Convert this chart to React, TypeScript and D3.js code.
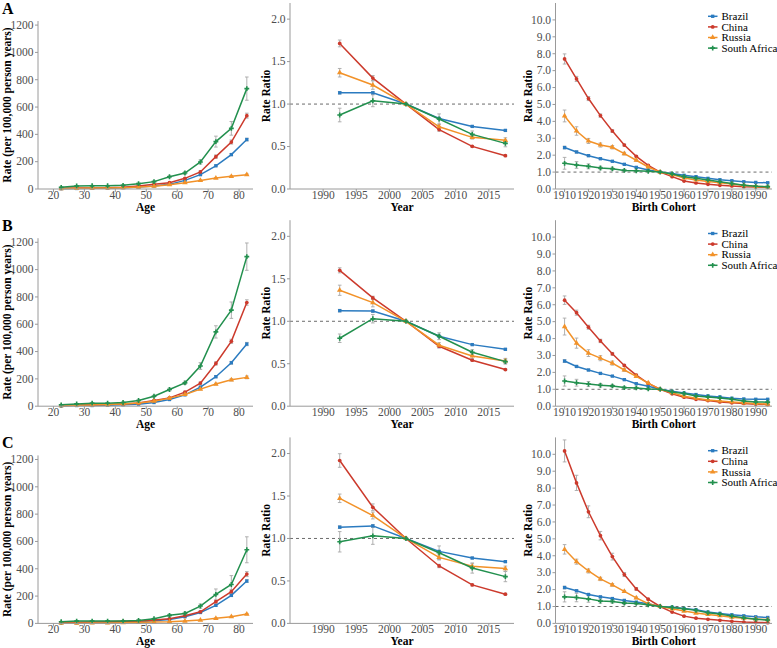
import React from "react";
import * as d3 from "d3";

// ---------- DATA ----------
const countries = ["Brazil", "China", "Russia", "South Africa"];
const panelLabels = ["A", "B", "C"];
const ages = [22.5, 27.5, 32.5, 37.5, 42.5, 47.5, 52.5, 57.5, 62.5, 67.5, 72.5, 77.5, 82.5];
const periods = [1992.5, 1997.5, 2002.5, 2007.5, 2012.5, 2017.5];
const cohorts = [1910, 1915, 1920, 1925, 1930, 1935, 1940, 1945, 1950, 1955, 1960, 1965, 1970, 1975, 1980, 1985, 1990, 1995];
const ageTicks = [20, 30, 40, 50, 60, 70, 80];
const rateTicks = [0, 200, 400, 600, 800, 1000, 1200];
const periodTicks = [1990, 1995, 2000, 2005, 2010, 2015];
const periodRatioTicks = [0, 0.5, 1.0, 1.5, 2.0];
const cohortTicks = [1910, 1920, 1930, 1940, 1950, 1960, 1970, 1980, 1990];
const cohortRatioTicks = [0, 1, 2, 3, 4, 5, 6, 7, 8, 9, 10];

// Age effects (rate per 100,000 person years)
const ageA_Brazil = [2, 4, 6, 8, 10, 15, 22, 34, 63, 105, 170, 252, 362];
const ageA_China = [5, 7, 8, 10, 12, 22, 34, 46, 78, 125, 237, 344, 537];
const ageA_Russia = [3, 5, 7, 8, 10, 14, 20, 31, 46, 63, 80, 93, 105];
const ageA_SouthAfrica = [12, 22, 24, 24, 27, 39, 54, 90, 117, 198, 347, 444, 735];
const ageB_Brazil = [2, 5, 5, 7, 10, 15, 27, 49, 83, 140, 216, 318, 455];
const ageB_China = [5, 7, 10, 12, 17, 24, 42, 61, 103, 169, 313, 475, 759];
const ageB_Russia = [3, 7, 9, 12, 17, 24, 37, 59, 86, 125, 162, 193, 211];
const ageB_SouthAfrica = [10, 17, 22, 22, 27, 42, 73, 122, 171, 294, 544, 703, 1095];
const ageC_Brazil = [5, 5, 7, 7, 10, 12, 20, 29, 49, 80, 132, 205, 310];
const ageC_China = [7, 8, 10, 12, 15, 15, 24, 34, 56, 85, 159, 232, 361];
const ageC_Russia = [2, 2, 3, 3, 5, 7, 10, 12, 17, 24, 37, 49, 68];
const ageC_SouthAfrica = [12, 17, 17, 17, 17, 22, 34, 59, 73, 127, 212, 285, 539];

const ageA_Brazil_err = [1, 1, 1, 1, 1, 1, 2, 2, 3, 5, 6, 8, 10];
const ageA_China_err = [1, 1, 1, 1, 1, 2, 2, 3, 5, 8, 12, 15, 18];
const ageA_Russia_err = [1, 1, 1, 1, 1, 1, 1, 2, 2, 3, 3, 4, 5];
const ageA_SouthAfrica_err = [2, 3, 3, 3, 3, 4, 5, 8, 10, 15, 40, 50, 85];
const ageB_Brazil_err = [1, 1, 1, 1, 1, 1, 2, 3, 4, 6, 8, 10, 12];
const ageB_China_err = [1, 1, 1, 1, 2, 2, 3, 4, 6, 8, 12, 15, 20];
const ageB_Russia_err = [1, 1, 1, 1, 1, 2, 2, 3, 4, 5, 6, 8, 10];
const ageB_SouthAfrica_err = [2, 3, 4, 4, 4, 5, 7, 10, 12, 25, 45, 60, 100];
const ageC_Brazil_err = [1, 1, 1, 1, 1, 1, 2, 2, 3, 5, 6, 8, 10];
const ageC_China_err = [1, 1, 1, 1, 1, 2, 2, 3, 4, 6, 10, 15, 18];
const ageC_Russia_err = [1, 1, 1, 1, 1, 1, 1, 1, 2, 2, 3, 4, 5];
const ageC_SouthAfrica_err = [2, 3, 3, 3, 3, 4, 5, 8, 10, 15, 40, 65, 95];

// Period effects (rate ratio)
const perA_Brazil = [1.133, 1.133, 1, 0.831, 0.737, 0.69];
const perA_China = [1.714, 1.306, 1, 0.7, 0.502, 0.392];
const perA_Russia = [1.369, 1.224, 1, 0.733, 0.608, 0.573];
const perA_SouthAfrica = [0.871, 1.039, 1, 0.824, 0.643, 0.537];
const perB_Brazil = [1.125, 1.12, 1, 0.824, 0.725, 0.67];
const perB_China = [1.6, 1.275, 1, 0.706, 0.541, 0.431];
const perB_Russia = [1.365, 1.22, 1, 0.718, 0.592, 0.533];
const perB_SouthAfrica = [0.8, 1.03, 1, 0.824, 0.635, 0.525];
const perC_Brazil = [1.133, 1.148, 1, 0.848, 0.77, 0.727];
const perC_China = [1.918, 1.367, 1, 0.676, 0.453, 0.344];
const perC_Russia = [1.473, 1.27, 1, 0.777, 0.672, 0.645];
const perC_SouthAfrica = [0.961, 1.031, 1, 0.832, 0.652, 0.551];

const perA_Brazil_err = [0.015, 0.015, 0, 0.01, 0.01, 0.01];
const perA_China_err = [0.04, 0.03, 0, 0.02, 0.01, 0.01];
const perA_Russia_err = [0.05, 0.05, 0, 0.03, 0.02, 0.03];
const perA_SouthAfrica_err = [0.08, 0.07, 0, 0.06, 0.04, 0.04];
const perB_Brazil_err = [0.015, 0.015, 0, 0.01, 0.01, 0.01];
const perB_China_err = [0.03, 0.02, 0, 0.02, 0.01, 0.01];
const perB_Russia_err = [0.06, 0.05, 0, 0.03, 0.03, 0.03];
const perB_SouthAfrica_err = [0.05, 0.05, 0, 0.04, 0.03, 0.03];
const perC_Brazil_err = [0.015, 0.015, 0, 0.01, 0.01, 0.01];
const perC_China_err = [0.08, 0.04, 0, 0.02, 0.01, 0.01];
const perC_Russia_err = [0.05, 0.04, 0, 0.03, 0.03, 0.03];
const perC_SouthAfrica_err = [0.12, 0.1, 0, 0.08, 0.06, 0.06];

// Cohort effects (rate ratio)
const cohA_Brazil = [2.45, 2.19, 1.97, 1.79, 1.64, 1.46, 1.28, 1.12, 1, 0.91, 0.81, 0.73, 0.63, 0.55, 0.49, 0.43, 0.39, 0.37];
const cohA_China = [7.69, 6.51, 5.35, 4.34, 3.43, 2.6, 1.93, 1.4, 1, 0.73, 0.47, 0.355, 0.28, 0.22, 0.18, 0.14, 0.12, 0.1];
const cohA_Russia = [4.32, 3.43, 2.84, 2.6, 2.47, 2.09, 1.7, 1.3, 1, 0.85, 0.65, 0.53, 0.45, 0.37, 0.3, 0.22, 0.16, 0.12];
const cohA_SouthAfrica = [1.52, 1.42, 1.34, 1.24, 1.2, 1.1, 1.08, 1.05, 1, 0.89, 0.73, 0.63, 0.53, 0.43, 0.32, 0.22, 0.16, 0.14];
const cohB_Brazil = [2.67, 2.35, 2.14, 1.94, 1.78, 1.57, 1.33, 1.18, 1, 0.88, 0.78, 0.69, 0.61, 0.55, 0.47, 0.43, 0.41, 0.41];
const cohB_China = [6.27, 5.53, 4.67, 3.86, 3.1, 2.41, 1.84, 1.35, 1, 0.73, 0.53, 0.41, 0.33, 0.25, 0.2, 0.16, 0.12, 0.1];
const cohB_Russia = [4.71, 3.73, 3.14, 2.84, 2.55, 2.14, 1.76, 1.37, 1, 0.8, 0.59, 0.47, 0.37, 0.31, 0.25, 0.2, 0.16, 0.12];
const cohB_SouthAfrica = [1.49, 1.39, 1.31, 1.24, 1.2, 1.1, 1.08, 1.02, 1, 0.84, 0.75, 0.61, 0.55, 0.49, 0.41, 0.31, 0.25, 0.24];
const cohC_Brazil = [2.12, 1.93, 1.71, 1.57, 1.47, 1.36, 1.26, 1.16, 1, 0.96, 0.88, 0.81, 0.67, 0.59, 0.51, 0.45, 0.39, 0.35];
const cohC_China = [10.2, 8.31, 6.6, 5.19, 3.95, 2.89, 2.04, 1.43, 1, 0.67, 0.43, 0.31, 0.24, 0.18, 0.12, 0.08, 0.06, 0.04];
const cohC_Russia = [4.38, 3.65, 3.1, 2.63, 2.28, 1.89, 1.51, 1.16, 1, 0.86, 0.73, 0.61, 0.53, 0.45, 0.37, 0.31, 0.26, 0.22];
const cohC_SouthAfrica = [1.57, 1.53, 1.45, 1.32, 1.3, 1.2, 1.18, 1.1, 1, 0.94, 0.86, 0.77, 0.63, 0.55, 0.43, 0.33, 0.24, 0.2];

const cohA_Brazil_err = [0.08, 0.06, 0.05, 0.04, 0.03, 0.03, 0.03, 0.02, 0, 0.02, 0.02, 0.02, 0.02, 0.02, 0.02, 0.02, 0.02, 0.02];
const cohA_China_err = [0.3, 0.15, 0.12, 0.1, 0.08, 0.06, 0.05, 0.04, 0, 0.02, 0.02, 0.02, 0.01, 0.01, 0.01, 0.01, 0.01, 0.01];
const cohA_Russia_err = [0.35, 0.25, 0.15, 0.12, 0.1, 0.08, 0.06, 0.05, 0, 0.03, 0.03, 0.02, 0.02, 0.02, 0.02, 0.02, 0.02, 0.02];
const cohA_SouthAfrica_err = [0.35, 0.2, 0.15, 0.1, 0.08, 0.06, 0.05, 0.05, 0, 0.04, 0.04, 0.04, 0.04, 0.04, 0.04, 0.04, 0.04, 0.04];
const cohB_Brazil_err = [0.08, 0.06, 0.05, 0.04, 0.03, 0.03, 0.03, 0.02, 0, 0.02, 0.02, 0.02, 0.02, 0.02, 0.02, 0.02, 0.02, 0.02];
const cohB_China_err = [0.25, 0.15, 0.12, 0.1, 0.08, 0.06, 0.05, 0.04, 0, 0.02, 0.02, 0.02, 0.01, 0.01, 0.01, 0.01, 0.01, 0.01];
const cohB_Russia_err = [0.5, 0.3, 0.2, 0.15, 0.12, 0.08, 0.06, 0.05, 0, 0.03, 0.03, 0.02, 0.02, 0.02, 0.02, 0.02, 0.02, 0.02];
const cohB_SouthAfrica_err = [0.3, 0.2, 0.15, 0.1, 0.08, 0.06, 0.05, 0.05, 0, 0.04, 0.04, 0.04, 0.04, 0.04, 0.04, 0.04, 0.04, 0.04];
const cohC_Brazil_err = [0.08, 0.06, 0.05, 0.04, 0.03, 0.03, 0.03, 0.02, 0, 0.02, 0.02, 0.02, 0.02, 0.02, 0.02, 0.02, 0.02, 0.02];
const cohC_China_err = [0.65, 0.45, 0.35, 0.25, 0.2, 0.12, 0.08, 0.05, 0, 0.02, 0.02, 0.02, 0.01, 0.01, 0.01, 0.01, 0.01, 0.01];
const cohC_Russia_err = [0.28, 0.15, 0.12, 0.1, 0.08, 0.06, 0.05, 0.04, 0, 0.03, 0.03, 0.02, 0.02, 0.02, 0.02, 0.02, 0.02, 0.02];
const cohC_SouthAfrica_err = [0.3, 0.25, 0.2, 0.12, 0.1, 0.08, 0.06, 0.05, 0, 0.04, 0.04, 0.04, 0.04, 0.04, 0.04, 0.04, 0.04, 0.04];

// ---------- STYLE ----------
const COLORS = ["#2B7BC0", "#CC3A2C", "#F29229", "#22904E"];
const SYMBOLS = [d3.symbolSquare, d3.symbolCircle, d3.symbolTriangle, d3.symbolCross];
const SYMBOL_SIZES = [11, 11, 13, 13];
const FONT = "'Liberation Serif', 'Times New Roman', serif";
const AXIS_COLOR = "#9a9a9a";
const TICK_TEXT = "#4d4d4d";
const ROW_STEP = 217.2;

const rowsData = [
  {
    age: [ageA_Brazil, ageA_China, ageA_Russia, ageA_SouthAfrica],
    ageErr: [ageA_Brazil_err, ageA_China_err, ageA_Russia_err, ageA_SouthAfrica_err],
    per: [perA_Brazil, perA_China, perA_Russia, perA_SouthAfrica],
    perErr: [perA_Brazil_err, perA_China_err, perA_Russia_err, perA_SouthAfrica_err],
    coh: [cohA_Brazil, cohA_China, cohA_Russia, cohA_SouthAfrica],
    cohErr: [cohA_Brazil_err, cohA_China_err, cohA_Russia_err, cohA_SouthAfrica_err],
  },
  {
    age: [ageB_Brazil, ageB_China, ageB_Russia, ageB_SouthAfrica],
    ageErr: [ageB_Brazil_err, ageB_China_err, ageB_Russia_err, ageB_SouthAfrica_err],
    per: [perB_Brazil, perB_China, perB_Russia, perB_SouthAfrica],
    perErr: [perB_Brazil_err, perB_China_err, perB_Russia_err, perB_SouthAfrica_err],
    coh: [cohB_Brazil, cohB_China, cohB_Russia, cohB_SouthAfrica],
    cohErr: [cohB_Brazil_err, cohB_China_err, cohB_Russia_err, cohB_SouthAfrica_err],
  },
  {
    age: [ageC_Brazil, ageC_China, ageC_Russia, ageC_SouthAfrica],
    ageErr: [ageC_Brazil_err, ageC_China_err, ageC_Russia_err, ageC_SouthAfrica_err],
    per: [perC_Brazil, perC_China, perC_Russia, perC_SouthAfrica],
    perErr: [perC_Brazil_err, perC_China_err, perC_Russia_err, perC_SouthAfrica_err],
    coh: [cohC_Brazil, cohC_China, cohC_Russia, cohC_SouthAfrica],
    cohErr: [cohC_Brazil_err, cohC_China_err, cohC_Russia_err, cohC_SouthAfrica_err],
  },
];

type PanelProps = {
  xs: number[];
  series: number[][];
  errs: number[][];
  xDomain: [number, number];
  yDomain: [number, number];
  xTicks: number[];
  yTicks: number[];
  fmtY: (v: number) => string;
  left: number;
  right: number;
  top: number;
  bottom: number;
  xTitle: string;
  yTitle: string;
  yTitleX: number;
  refLine?: boolean;
  legend?: boolean;
};

function Panel(p: PanelProps) {
  const x = d3.scaleLinear().domain(p.xDomain).range([p.left, p.right]);
  const y = d3.scaleLinear().domain(p.yDomain).range([p.bottom, p.top]);
  const line = d3
    .line<number>()
    .x((_, i) => x(p.xs[i]))
    .y((d) => y(d));
  const sym = (k: number) => d3.symbol().type(SYMBOLS[k]).size(SYMBOL_SIZES[k])() as string;
  return (
    <g>
      {p.refLine && (
        <line x1={p.left} x2={p.right} y1={y(1)} y2={y(1)} stroke="#6b6b6b" strokeWidth={1} strokeDasharray="3,3" />
      )}
      {p.series.map((s, k) => (
        <g key={"e" + k}>
          {s.map((v, i) => {
            const e = p.errs[k][i];
            if (!e) return null;
            const cx = x(p.xs[i]);
            const y1 = y(v - e);
            const y2 = y(v + e);
            return (
              <g key={i} stroke="#a8a8a8" strokeWidth={0.9}>
                <line x1={cx} x2={cx} y1={y1} y2={y2} />
                <line x1={cx - 1.8} x2={cx + 1.8} y1={y1} y2={y1} />
                <line x1={cx - 1.8} x2={cx + 1.8} y1={y2} y2={y2} />
              </g>
            );
          })}
        </g>
      ))}
      {p.series.map((s, k) => (
        <g key={"l" + k}>
          <path d={line(s) as string} fill="none" stroke={COLORS[k]} strokeWidth={1.5} />
          {s.map((v, i) => (
            <path key={i} d={sym(k)} transform={`translate(${x(p.xs[i])},${y(v)})`} fill={COLORS[k]} />
          ))}
        </g>
      ))}
      <line x1={p.left} x2={p.left} y1={p.top} y2={p.bottom} stroke={AXIS_COLOR} strokeWidth={1} />
      <line x1={p.left} x2={p.right} y1={p.bottom} y2={p.bottom} stroke={AXIS_COLOR} strokeWidth={1} />
      {p.yTicks.map((t) => (
        <g key={"yt" + t}>
          <line x1={p.left - 3} x2={p.left} y1={y(t)} y2={y(t)} stroke={AXIS_COLOR} />
          <text x={p.left - 4.5} y={y(t) + 3.8} textAnchor="end" fontSize={11.5} fill={TICK_TEXT} fontFamily={FONT}>
            {p.fmtY(t)}
          </text>
        </g>
      ))}
      {p.xTicks.map((t) => (
        <g key={"xt" + t}>
          <line x1={x(t)} x2={x(t)} y1={p.bottom} y2={p.bottom + 3} stroke={AXIS_COLOR} />
          <text x={x(t)} y={p.bottom + 9.8} textAnchor="middle" fontSize={11.5} fill={TICK_TEXT} fontFamily={FONT}>
            {t}
          </text>
        </g>
      ))}
      <text
        x={(p.left + p.right) / 2}
        y={p.bottom + 21.5}
        textAnchor="middle"
        fontSize={11.5}
        fontWeight="bold"
        fontFamily={FONT}
        fill="#000"
      >
        {p.xTitle}
      </text>
      <text
        transform={`translate(${p.yTitleX},${(p.top + p.bottom) / 2}) rotate(-90)`}
        textAnchor="middle"
        fontSize={11.5}
        fontWeight="bold"
        fontFamily={FONT}
        fill="#000"
      >
        {p.yTitle}
      </text>
      {p.legend &&
        countries.map((c, k) => {
          const ly = p.top + 13.3 + k * 10.6;
          return (
            <g key={c}>
              <line x1={708} x2={717.5} y1={ly} y2={ly} stroke={COLORS[k]} strokeWidth={1.5} />
              <path d={sym(k)} transform={`translate(712.7,${ly})`} fill={COLORS[k]} />
              <text x={721.5} y={ly + 3.7} fontSize={11} fontFamily={FONT} fill="#000">
                {c}
              </text>
            </g>
          );
        })}
    </g>
  );
}

const fmt1 = d3.format(".1f");

export default function App() {
  return (
    <svg
      width={777}
      height={648}
      style={{ position: "absolute", left: 0, top: 0, background: "#fff" }}
      fontFamily={FONT}
    >
      <rect width={777} height={648} fill="#fff" />
      {rowsData.map((r, i) => {
        const off = i * ROW_STEP;
        return (
          <g key={i}>
            <text x={2} y={13.5 + off} fontSize={16} fontWeight="bold" fontFamily={FONT}>
              {panelLabels[i]}
            </text>
            <Panel
              xs={ages}
              series={r.age}
              errs={r.ageErr}
              xDomain={[15, 84.5]}
              yDomain={[0, 1230]}
              xTicks={ageTicks}
              yTicks={rateTicks}
              fmtY={(v) => String(v)}
              left={38}
              right={253}
              top={21 + off}
              bottom={189 + off}
              xTitle="Age"
              yTitle="Rate (per 100,000 person years)"
              yTitleX={11}
            />
            <Panel
              xs={periods}
              series={r.per}
              errs={r.perErr}
              xDomain={[1985, 2018.8]}
              yDomain={[0, 2.19]}
              xTicks={periodTicks}
              yTicks={periodRatioTicks}
              fmtY={fmt1}
              left={290}
              right={514}
              top={3 + off}
              bottom={189 + off}
              xTitle="Year"
              yTitle="Rate Ratio"
              yTitleX={269.5}
              refLine
            />
            <Panel
              xs={cohorts}
              series={r.coh}
              errs={r.cohErr}
              xDomain={[1906.2, 1996.8]}
              yDomain={[0, 11]}
              xTicks={cohortTicks}
              yTicks={cohortRatioTicks}
              fmtY={fmt1}
              left={555.5}
              right={772}
              top={3 + off}
              bottom={189 + off}
              xTitle="Birth Cohort"
              yTitle="Rate Ratio"
              yTitleX={531.5}
              refLine
              legend
            />
          </g>
        );
      })}
    </svg>
  );
}
